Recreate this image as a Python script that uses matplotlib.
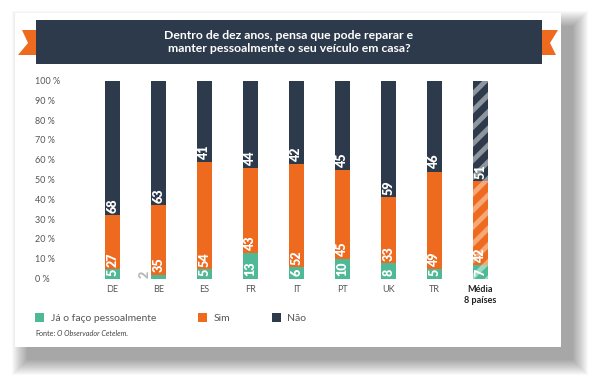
import matplotlib
matplotlib.use("Agg")
import matplotlib.pyplot as plt
from matplotlib.patches import Rectangle, Polygon, Patch
import numpy as np

plt.rcParams['font.family'] = ['Lato', 'DejaVu Sans']
plt.rcParams['hatch.linewidth'] = 3.5

# data
countries = ['DE', 'BE', 'ES', 'FR', 'IT', 'PT', 'UK', 'TR', 'Média\n8 países']
ja_faco = [5, 2, 5, 13, 6, 10, 8, 5, 7]
sim = [27, 35, 54, 43, 52, 45, 33, 49, 42]
nao = [68, 63, 41, 44, 42, 45, 59, 46, 51]
y_ticks = [0, 10, 20, 30, 40, 50, 60, 70, 80, 90, 100]
legend_labels = ['Já o faço pessoalmente', 'Sim', 'Não']
title = 'Dentro de dez anos, pensa que pode reparar e\nmanter pessoalmente o seu veículo em casa?'

c_green = '#4fb896'
c_orange = '#ee6a1f'
c_navy = '#2c3a4b'
c_green_l = '#9ad8c4'
c_orange_l = '#f6a776'
c_navy_l = '#8d959e'
c_text = '#555555'

W, H = 596, 380
fig = plt.figure(figsize=(W / 100, H / 100), dpi=100)
fig.patch.set_facecolor('white')

# background layer in pixel coordinates (card, shadow, banner)
bg = fig.add_axes([0, 0, 1, 1], zorder=0)
bg.set_xlim(0, W)
bg.set_ylim(H, 0)
bg.axis('off')

cx0, cy0, cx1, cy1 = 15, 13, 561, 347
for i in range(16):
    bg.add_patch(Rectangle((cx0 + 12 - i, cy0 + 13 - i), (cx1 - cx0) + 2 * i, (cy1 - cy0) + 2 * i,
                           facecolor='black', edgecolor='none', alpha=0.022))
bg.add_patch(Rectangle((cx0, cy0), cx1 - cx0, cy1 - cy0, facecolor='white', edgecolor='none'))

# ribbon tails and banner
bg.add_patch(Polygon([(37, 30), (22, 30), (28, 43), (18, 55), (37, 55)], closed=True,
                     facecolor=c_orange, edgecolor='none'))
bg.add_patch(Polygon([(541, 30), (558, 30), (550, 43), (556, 55), (541, 55)], closed=True,
                     facecolor=c_orange, edgecolor='none'))
bg.add_patch(Rectangle((36, 20), 506, 44, facecolor=c_navy, edgecolor='none'))
bg.text(289, 42, title, color='white', fontsize=8.8, fontweight='bold',
        ha='center', va='center', linespacing=1.3)

# source
bg.text(35, 334, 'Fonte:', fontsize=5.2, color='#444444', va='center', ha='left')
bg.text(57, 334, 'O Observador Cetelem.', fontsize=5.2, color='#444444', va='center',
        ha='left', style='italic')

# chart axes
ax = fig.add_axes([66.5 / W, (H - 278.5) / H, 460 / W, 198 / H], zorder=2)
ax.patch.set_alpha(0)
x = np.arange(len(countries))
bw = 0.33
ja = np.array(ja_faco)
si = np.array(sim)
na = np.array(nao)

b1 = ax.bar(x, ja, bw, color=c_green, linewidth=0)
b2 = ax.bar(x, si, bw, bottom=ja, color=c_orange, linewidth=0)
b3 = ax.bar(x, na, bw, bottom=ja + si, color=c_navy, linewidth=0)

# striped average bar
for bars, lc in ((b1, c_green_l), (b2, c_orange_l), (b3, c_navy_l)):
    p = bars[-1]
    p.set_hatch('//')
    p.set_edgecolor(lc)
    p.set_linewidth(0)

# value labels
for i in range(len(countries)):
    bottoms = [0, ja[i], ja[i] + si[i]]
    for v, b in zip([ja[i], si[i], na[i]], bottoms):
        if v < 3:
            ax.annotate(str(v), (x[i], b), xytext=(-10, 0), textcoords='offset points',
                        rotation=90, ha='center', va='bottom', fontsize=9,
                        fontweight='heavy', color='#b5b9bd')
        else:
            ax.annotate(str(v), (x[i], b), xytext=(0, 1.5), textcoords='offset points',
                        rotation=90, ha='center', va='bottom', fontsize=9,
                        fontweight='heavy', color='white')

ax.set_xlim(-1, 9)
ax.set_ylim(0, 100)
ax.set_yticks(y_ticks)
ax.set_yticklabels([f'{t} %' for t in y_ticks], fontsize=6.5, color=c_text, ha='left')
ax.tick_params(axis='y', length=0, pad=22.7)
ax.set_xticks(x)
ax.set_xticklabels(countries, fontsize=6.5, color=c_text, linespacing=1.2)
ax.tick_params(axis='x', length=0, pad=5)
lab = ax.get_xticklabels()[-1]
lab.set_fontweight('bold')
lab.set_color('#222222')
for s in ax.spines.values():
    s.set_visible(False)

# legend
handles = [Patch(facecolor=c, edgecolor='none') for c in (c_green, c_orange, c_navy)]
fig.legend(handles, legend_labels, loc='center left', bbox_to_anchor=(35 / W, 1 - 318 / H),
           ncol=3, frameon=False, fontsize=7.5, handlelength=0.9, handleheight=0.9,
           handletextpad=0.6, columnspacing=4.0, borderpad=0, borderaxespad=0,
           labelcolor=c_text)

fig.savefig('out.png', dpi=100)
